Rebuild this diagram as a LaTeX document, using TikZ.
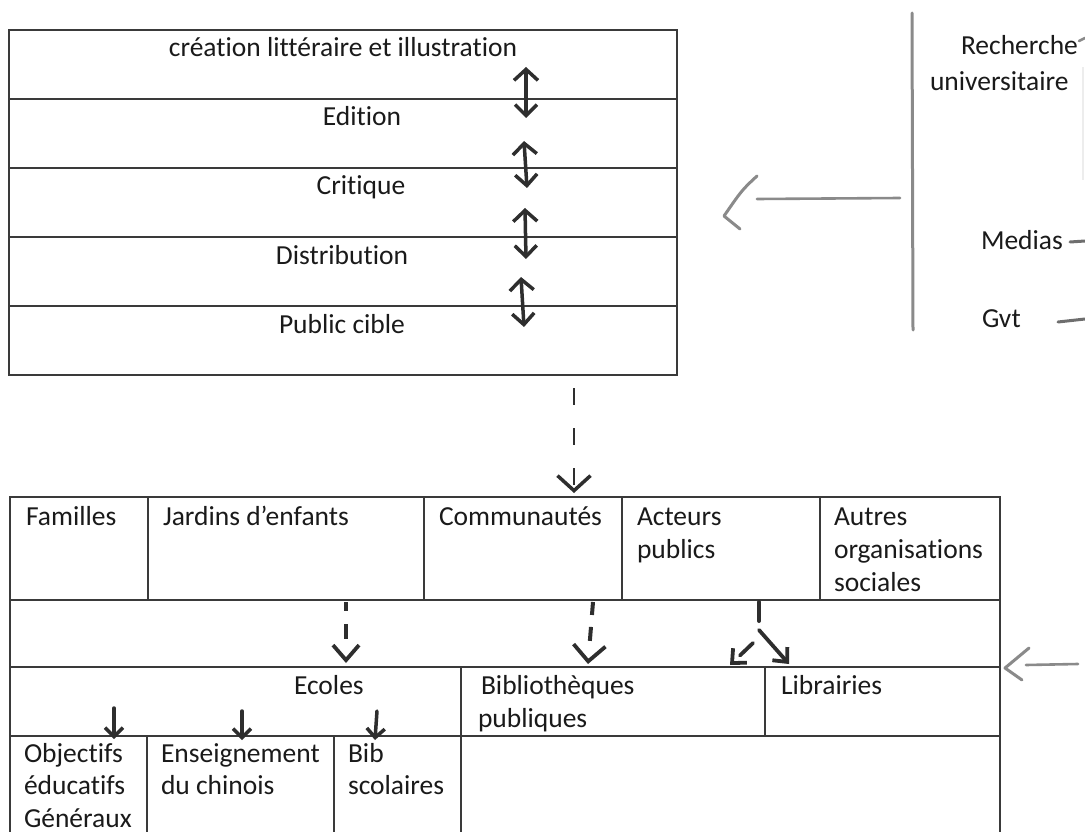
\documentclass[tikz,border=0pt]{standalone}
\usepackage{fontspec}
\setmainfont{Carlito}[Ligatures=NoCommon]
\usetikzlibrary{arrows.meta}
\definecolor{ink}{HTML}{2E2E2E}
\definecolor{gridc}{HTML}{3A3A3A}
\definecolor{pencil}{HTML}{8A8A8A}
\definecolor{txtc}{HTML}{1A1A1A}
\newcommand\twolines[2]{\vtop{\hbox{#1}\hbox{#2}}}
\newcommand\threelines[3]{\vtop{\hbox{#1}\hbox{#2}\hbox{#3}}}
\begin{document}
\begin{tikzpicture}[x=1pt,y=-1pt,
  cell/.style={draw=gridc,line width=1.8pt,rectangle,inner sep=0pt,outer sep=0pt,anchor=north west},
  gridline/.style={draw=gridc,line width=1.8pt},
  txt/.style={inner sep=0pt,outer sep=0pt,anchor=base west,text=txtc,font=\fontsize{27.5}{33}\selectfont},
  ctxt/.style={txt,anchor=base},
  hand/.style={draw=ink,line width=3.5pt,line cap=round,line join=round},
  dbl/.style={hand,{Straight Barb[length=11pt,width=24pt]}-{Straight Barb[length=11pt,width=22pt]}},
  hdsmall/.style={hand,-{Straight Barb[length=9pt,width=18pt]}},
  pencilline/.style={draw=pencil,line width=3pt,line cap=round,line join=round},
]
\useasboundingbox (0,0) rectangle (1085,832);

% ---------- top box ----------
\node[cell,minimum width=668pt,minimum height=69pt] (t1) at (9,30) {};
\node[cell,minimum width=668pt,minimum height=69pt] (t2) at (9,99) {};
\node[cell,minimum width=668pt,minimum height=69pt] (t3) at (9,168) {};
\node[cell,minimum width=668pt,minimum height=69pt] (t4) at (9,237) {};
\node[cell,minimum width=668pt,minimum height=69pt] (t5) at (9,306) {};

\node[ctxt] (l1) at (343,57) {création littéraire et illustration};
\node[ctxt] (l2) at (362,126) {Edition};
\node[ctxt] (l3) at (361,195) {Critique};
\node[ctxt] (l4) at (342,264) {Distribution};
\node[ctxt] (l5) at (342,333) {Public cible};

% double arrows
\coordinate (u1a) at (526,67);  \coordinate (u1b) at (526,118);
\coordinate (u2a) at (524,141); \coordinate (u2b) at (527,188);
\coordinate (u3a) at (525,208); \coordinate (u3b) at (526,259);
\coordinate (u4a) at (521,277); \coordinate (u4b) at (524,327);
\draw[dbl] (u1a) -- (u1b);
\draw[dbl] (u2a) -- (u2b);
\draw[dbl] (u3a) -- (u3b);
\draw[dbl] (u4a) -- (u4b);

% ---------- right side ----------
\coordinate (vtop) at (912,13); \coordinate (vbot) at (913,330);
\draw[pencilline] (vtop) -- (vbot);
\coordinate (p0) at (900,198); \coordinate (p1) at (757,199);
\draw[pencilline,line width=2.6pt] (p0) -- (p1);
\coordinate (pc1) at (757,176); \coordinate (pc2) at (724,216); \coordinate (pc3) at (740,229);
\draw[pencilline] (pc1) .. controls (742,190) .. (pc2) -- (pc3);

\node[txt] (rech) at (961,55) {Recherche};
\node[txt] (univ) at (930,91) {universitaire};
\node[txt] (med) at (981,249) {Medias};
\node[txt] (gvt) at (982,327) {Gvt};
\coordinate (rk1) at (1079,41); \coordinate (rk2) at (1085,38);
\draw[pencilline,line width=2.5pt] (rk1) -- (rk2);
\coordinate (md1) at (1070,242); \coordinate (md2) at (1085,241);
\draw[pencilline,draw=pencil!80!black] (md1) -- (md2);
\coordinate (gv1) at (1058,322); \coordinate (gv2) at (1085,319);
\draw[pencilline,draw=pencil!80!black] (gv1) -- (gv2);
\coordinate (fv1) at (1083,67); \coordinate (fv2) at (1083,180);
\draw[draw=black!7,line width=1.5pt] (fv1) -- (fv2);

% ---------- dashed arrow between boxes ----------
\coordinate (d0) at (574,388); \coordinate (d1) at (574,493);
\draw[hand,line width=2.6pt,line cap=butt,dash pattern=on 17pt off 23pt,
  -{Straight Barb[length=15pt,width=33pt,line width=3.5pt]}] (d0) -- (d1);

% ---------- bottom box ----------
\node[cell,minimum width=138pt,minimum height=103pt] (b11) at (10,497) {};
\node[cell,minimum width=276pt,minimum height=103pt] (b12) at (148,497) {};
\node[cell,minimum width=198pt,minimum height=103pt] (b13) at (424,497) {};
\node[cell,minimum width=198pt,minimum height=103pt] (b14) at (622,497) {};
\node[cell,minimum width=180pt,minimum height=103pt] (b15) at (820,497) {};
\node[cell,minimum width=990pt,minimum height=67pt] (b2) at (10,600) {};
\node[cell,minimum width=451pt,minimum height=69pt] (b31) at (10,667) {};
\node[cell,minimum width=304pt,minimum height=69pt] (b32) at (461,667) {};
\node[cell,minimum width=235pt,minimum height=69pt] (b33) at (765,667) {};
\draw[gridline] (10,736) -- (10,833);
\draw[gridline] (147,736) -- (147,833);
\draw[gridline] (334,736) -- (334,833);
\draw[gridline] (461,736) -- (461,833);
\draw[gridline] (1000,736) -- (1000,833);

\node[txt] (fam) at (26,525) {Familles};
\node[txt] (jar) at (163,525) {Jardins d’enfants};
\node[txt] (com) at (439,525) {Communautés};
\node[txt] (act) at (637,525) {\twolines{Acteurs}{publics}};
\node[txt] (aut) at (834,525) {\threelines{Autres}{organisations}{sociales}};
\node[txt] (eco) at (294,694) {Ecoles};
\node[txt] (bib) at (478,694) {\twolines{\kern3pt Bibliothèques}{publiques}};
\node[txt] (lib) at (781,694) {Librairies};
\node[txt,font=\fontsize{27.5}{32.5}\selectfont] (obj) at (24,762) {\threelines{Objectifs}{éducatifs}{Généraux}};
\node[txt,font=\fontsize{27.5}{32.5}\selectfont] (ens) at (161,762) {\twolines{Enseignement}{du chinois}};
\node[txt,font=\fontsize{27.5}{32.5}\selectfont] (bsc) at (348,762) {\twolines{Bib}{scolaires}};

% dashed arrows in row 2
\coordinate (a0) at (346,602); \coordinate (a1) at (346,663);
\draw[hand,line width=4pt,line cap=butt,dash pattern=on 9pt off 13pt on 15pt off 60pt,
  -{Straight Barb[length=15pt,width=26pt,line width=3.8pt]}] (a0) -- (a1);
\coordinate (bb0) at (593,602); \coordinate (bb1) at (588,664);
\draw[hand,line width=4pt,line cap=butt,dash pattern=on 13pt off 12pt on 14pt off 60pt,
  -{Straight Barb[length=16pt,width=32pt,line width=3.8pt]}] (bb0) -- (bb1);
\coordinate (c0) at (759,602); \coordinate (c1) at (759,621);
\draw[hand,line width=4pt] (c0) -- (c1);
\coordinate (cl0) at (753,643); \coordinate (cl1) at (730,665);
\coordinate (cr0) at (759,630); \coordinate (cr1) at (789,664);
\draw[hand,line width=3.8pt,dash pattern=on 18pt off 20pt,-{Straight Barb[length=11pt,width=20pt]}] (cl0) -- (cl1);
\draw[hand,line width=3.8pt,-{Straight Barb[length=11pt,width=20pt]}] (cr0) -- (cr1);

% small arrows in row 3
\coordinate (s1a) at (114,708); \coordinate (s1b) at (114,739);
\coordinate (s2a) at (242,711); \coordinate (s2b) at (242,740);
\coordinate (s3a) at (377,711); \coordinate (s3b) at (375,740);
\draw[hdsmall] (s1a) -- (s1b);
\draw[hdsmall] (s2a) -- (s2b);
\draw[hdsmall] (s3a) -- (s3b);

% pencil arrow at right of bottom box
\coordinate (q0) at (1078,664); \coordinate (q1) at (1026,665);
\draw[pencilline,line width=2.6pt] (q0) -- (q1);
\coordinate (qc1) at (1029,648); \coordinate (qc2) at (1005,668); \coordinate (qc3) at (1022,680);
\draw[pencilline] (qc1) -- (qc2) -- (qc3);
\end{tikzpicture}
\end{document}
